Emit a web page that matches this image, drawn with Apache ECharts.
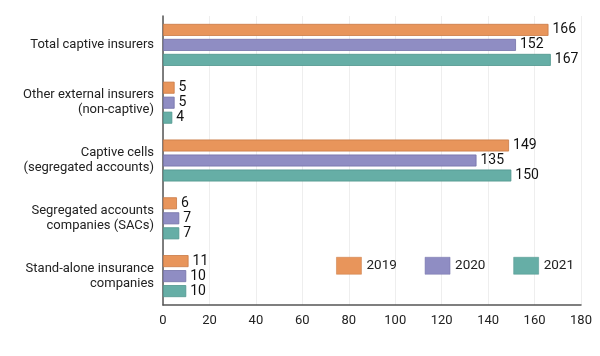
<!DOCTYPE html>
<html><head><meta charset="utf-8">
<script src="https://cdn.jsdelivr.net/npm/echarts@6/dist/echarts.min.js"></script>
<style>html,body{margin:0;padding:0;background:#fff}#c{width:600px;height:356px}</style>
</head><body><div id="c"></div>
<script>
const categories = ["Total captive insurers","Other external insurers\n(non-captive)","Captive cells\n(segregated accounts)","Segregated accounts\ncompanies (SACs)","Stand-alone insurance\ncompanies"];
const seriesNames = ["2019","2020","2021"];
const values2019 = [166,5,149,6,11];
const values2020 = [152,5,135,7,10];
const values2021 = [167,4,150,7,10];
const xTicks = {min:0,max:180,interval:20};
const colors = ["#E8955B","#8F8DC3","#66AEA6"];
const borders = ["#C97A45","#7472A8","#4F958D"];
const font = "Roboto";
const chart = echarts.init(document.getElementById('c'));
const vals=[values2019,values2020,values2021];
chart.setOption({
  animation:false,
  textStyle:{fontFamily:font},
  grid:{left:163,right:19,top:16,bottom:51},
  legend:{right:21,top:252,itemWidth:25,itemHeight:17,itemGap:28,icon:'rect',
    itemStyle:{borderWidth:0.5},
    textStyle:{fontFamily:font,fontSize:13.5,color:'#222'},data:seriesNames},
  xAxis:{type:'value',min:xTicks.min,max:xTicks.max,interval:xTicks.interval,
    axisLine:{show:true,lineStyle:{color:'#555',width:1.5}},
    axisTick:{show:false},
    axisLabel:{fontFamily:font,fontSize:13,color:'#222',margin:9},
    splitLine:{show:true,lineStyle:{color:'#eee'}}},
  yAxis:{type:'category',inverse:true,data:categories,
    axisLine:{show:true,lineStyle:{color:'#555',width:1.5}},
    axisTick:{show:false},
    axisLabel:{fontFamily:font,fontSize:13,color:'#222',margin:9,lineHeight:15,align:'right'}},
  series:seriesNames.map((n,i)=>({name:n,type:'bar',data:vals[i],barWidth:12,barGap:'25%',
    itemStyle:{color:colors[i],borderColor:borders[i],borderWidth:0.8},
    label:{show:true,position:'right',distance:4,fontFamily:font,fontSize:14,fontWeight:'normal',color:'#111'}}))
});
</script></body></html>
